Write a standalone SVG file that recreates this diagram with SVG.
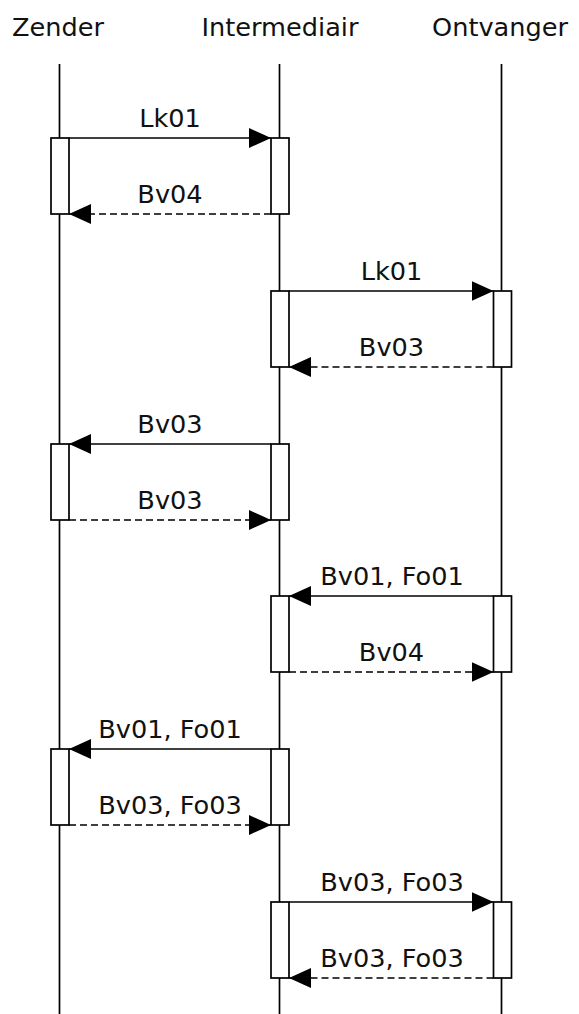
<svg xmlns="http://www.w3.org/2000/svg" width="579" height="1014" viewBox="0 0 579 1014">
<style>
text{font-family:"DejaVu Sans","Noto Sans",sans-serif;font-size:25.6px;fill:#111;text-anchor:middle}
.life{stroke:#000;stroke-width:1.7;fill:none}
.act{stroke:#000;stroke-width:1.7;fill:#fff}
.msg{stroke:#000;stroke-width:1.7;fill:none;marker-end:url(#ah)}
.ret{stroke:#000;stroke-width:1.7;fill:none;stroke-dasharray:7 4;marker-end:url(#ah)}
</style>
<defs>
<marker id="ah" markerUnits="userSpaceOnUse" markerWidth="22" markerHeight="20" refX="22" refY="10" orient="auto" viewBox="0 0 22 20">
<path d="M0,0 L22,10 L0,20 z" fill="#000"/>
</marker>
</defs>
<g id="Zender">
<text x="58" y="36">Zender</text>
<line class="life" x1="59.5" y1="64" x2="59.5" y2="1014"/>
</g>
<g id="Intermediair">
<text x="280" y="36">Intermediair</text>
<line class="life" x1="279.5" y1="64" x2="279.5" y2="1014"/>
</g>
<g id="Ontvanger">
<text x="500" y="36">Ontvanger</text>
<line class="life" x1="501.5" y1="64" x2="501.5" y2="1014"/>
</g>
<g id="activations">
<rect class="act" x="51" y="138" width="18" height="76"/>
<rect class="act" x="271" y="138" width="18" height="76"/>
<rect class="act" x="271" y="291" width="18" height="76"/>
<rect class="act" x="493.5" y="291" width="18" height="76"/>
<rect class="act" x="51" y="444" width="18" height="76"/>
<rect class="act" x="271" y="444" width="18" height="76"/>
<rect class="act" x="271" y="596" width="18" height="76"/>
<rect class="act" x="493.5" y="596" width="18" height="76"/>
<rect class="act" x="51" y="749" width="18" height="76"/>
<rect class="act" x="271" y="749" width="18" height="76"/>
<rect class="act" x="271" y="902" width="18" height="76"/>
<rect class="act" x="493.5" y="902" width="18" height="76"/>
</g>
<g id="connectors">
<line class="msg" x1="69" y1="138" x2="271" y2="138"/>
<text x="170" y="127">Lk01</text>
<line class="ret" x1="271" y1="214" x2="69" y2="214"/>
<text x="170" y="203">Bv04</text>
<line class="msg" x1="289" y1="291" x2="493.5" y2="291"/>
<text x="391.5" y="280">Lk01</text>
<line class="ret" x1="493.5" y1="367" x2="289" y2="367"/>
<text x="391.5" y="356">Bv03</text>
<line class="msg" x1="271" y1="444" x2="69" y2="444"/>
<text x="170" y="433">Bv03</text>
<line class="ret" x1="69" y1="520" x2="271" y2="520"/>
<text x="170" y="509">Bv03</text>
<line class="msg" x1="493.5" y1="596" x2="289" y2="596"/>
<text x="392" y="585">Bv01, Fo01</text>
<line class="ret" x1="289" y1="672" x2="493.5" y2="672"/>
<text x="391.5" y="661">Bv04</text>
<line class="msg" x1="271" y1="749" x2="69" y2="749"/>
<text x="170" y="738">Bv01, Fo01</text>
<line class="ret" x1="69" y1="825" x2="271" y2="825"/>
<text x="170" y="814">Bv03, Fo03</text>
<line class="msg" x1="289" y1="902" x2="493.5" y2="902"/>
<text x="392" y="891">Bv03, Fo03</text>
<line class="ret" x1="493.5" y1="978" x2="289" y2="978"/>
<text x="392" y="967">Bv03, Fo03</text>
</g>
</svg>
